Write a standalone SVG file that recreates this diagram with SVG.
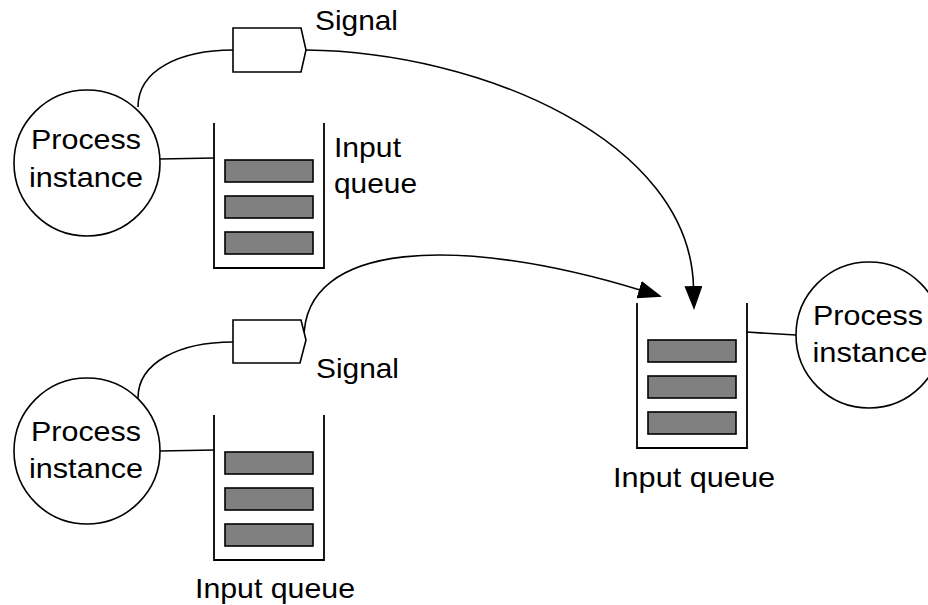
<svg xmlns="http://www.w3.org/2000/svg" width="928" height="605" viewBox="0 0 928 605">
  <style>
    .proc { fill: #ffffff; stroke: #000000; stroke-width: 1.6; }
    .wall { fill: none; stroke: #000000; stroke-width: 1.8; }
    .bar { fill: #808080; stroke: #000000; stroke-width: 1.6; }
    .sig { fill: #ffffff; stroke: #000000; stroke-width: 1.6; stroke-linejoin: miter; }
    .link { fill: none; stroke: #000000; stroke-width: 1.6; }
    .lbl { font-family: "Liberation Sans", Arial, sans-serif; font-size: 28px; fill: #000000; }
    .mid { text-anchor: middle; }
  </style>
  <defs>
    <marker id="arrow" viewBox="0 0 24 18" refX="1" refY="9" markerWidth="24" markerHeight="18" markerUnits="userSpaceOnUse" orient="auto">
      <path d="M0,0 L24,9 L0,18 Z" fill="#000000"/>
    </marker>
    <g id="queue">
      <path class="wall" d="M0,0 V145 H110 V0"/>
      <rect class="bar" x="11" y="37" width="88" height="22"/>
      <rect class="bar" x="11" y="73" width="88" height="22"/>
      <rect class="bar" x="11" y="109" width="88" height="22"/>
    </g>
  </defs>

  <!-- connectors -->
  <g id="connectors">
    <path class="link" d="M138,107 C138,70 180,50 233,50"/>
    <line class="link" x1="160" y1="159" x2="214" y2="158"/>
    <path class="link" d="M306,50 C480,52 690,140 693.5,287" marker-end="url(#arrow)"/>
    <path class="link" d="M138,398 C138,362 180,342 233,342"/>
    <line class="link" x1="160" y1="451" x2="214" y2="450"/>
    <path class="link" d="M304,340 C302,240 460,235 640,290" marker-end="url(#arrow)"/>
    <line class="link" x1="746" y1="332" x2="796" y2="335"/>
  </g>

  <!-- upper sender -->
  <g id="process-top">
    <circle class="proc" cx="87" cy="163" r="73"/>
    <text class="lbl mid" x="86" y="149" textLength="110" lengthAdjust="spacingAndGlyphs">Process</text>
    <text class="lbl mid" x="86" y="187" textLength="114" lengthAdjust="spacingAndGlyphs">instance</text>
  </g>
  <g id="queue-top">
    <use href="#queue" x="214" y="123"/>
    <text class="lbl" x="334" y="157" textLength="67" lengthAdjust="spacingAndGlyphs">Input</text>
    <text class="lbl" x="334" y="193" textLength="83" lengthAdjust="spacingAndGlyphs">queue</text>
  </g>
  <g id="signal-top">
    <path class="sig" d="M233,28 H301 L306,50 L301,72 H233 Z"/>
    <text class="lbl" x="315" y="30" textLength="83" lengthAdjust="spacingAndGlyphs">Signal</text>
  </g>

  <!-- lower sender -->
  <g id="process-bottom">
    <circle class="proc" cx="87" cy="451" r="73"/>
    <text class="lbl mid" x="86" y="441" textLength="110" lengthAdjust="spacingAndGlyphs">Process</text>
    <text class="lbl mid" x="86" y="478" textLength="114" lengthAdjust="spacingAndGlyphs">instance</text>
  </g>
  <g id="queue-bottom">
    <use href="#queue" x="214" y="415"/>
    <text class="lbl mid" x="275" y="598" textLength="160" lengthAdjust="spacingAndGlyphs">Input queue</text>
  </g>
  <g id="signal-bottom">
    <path class="sig" d="M233,320 H301 L306,340 L300,363 H233 Z"/>
    <text class="lbl" x="316" y="378" textLength="83" lengthAdjust="spacingAndGlyphs">Signal</text>
  </g>

  <!-- receiver -->
  <g id="queue-right">
    <use href="#queue" x="637" y="303"/>
    <text class="lbl mid" x="694" y="487" textLength="162" lengthAdjust="spacingAndGlyphs">Input queue</text>
  </g>
  <g id="process-right">
    <circle class="proc" cx="869" cy="335" r="73"/>
    <text class="lbl mid" x="868" y="325" textLength="110" lengthAdjust="spacingAndGlyphs">Process</text>
    <text class="lbl mid" x="870" y="362" textLength="115" lengthAdjust="spacingAndGlyphs">instance</text>
  </g>
</svg>
